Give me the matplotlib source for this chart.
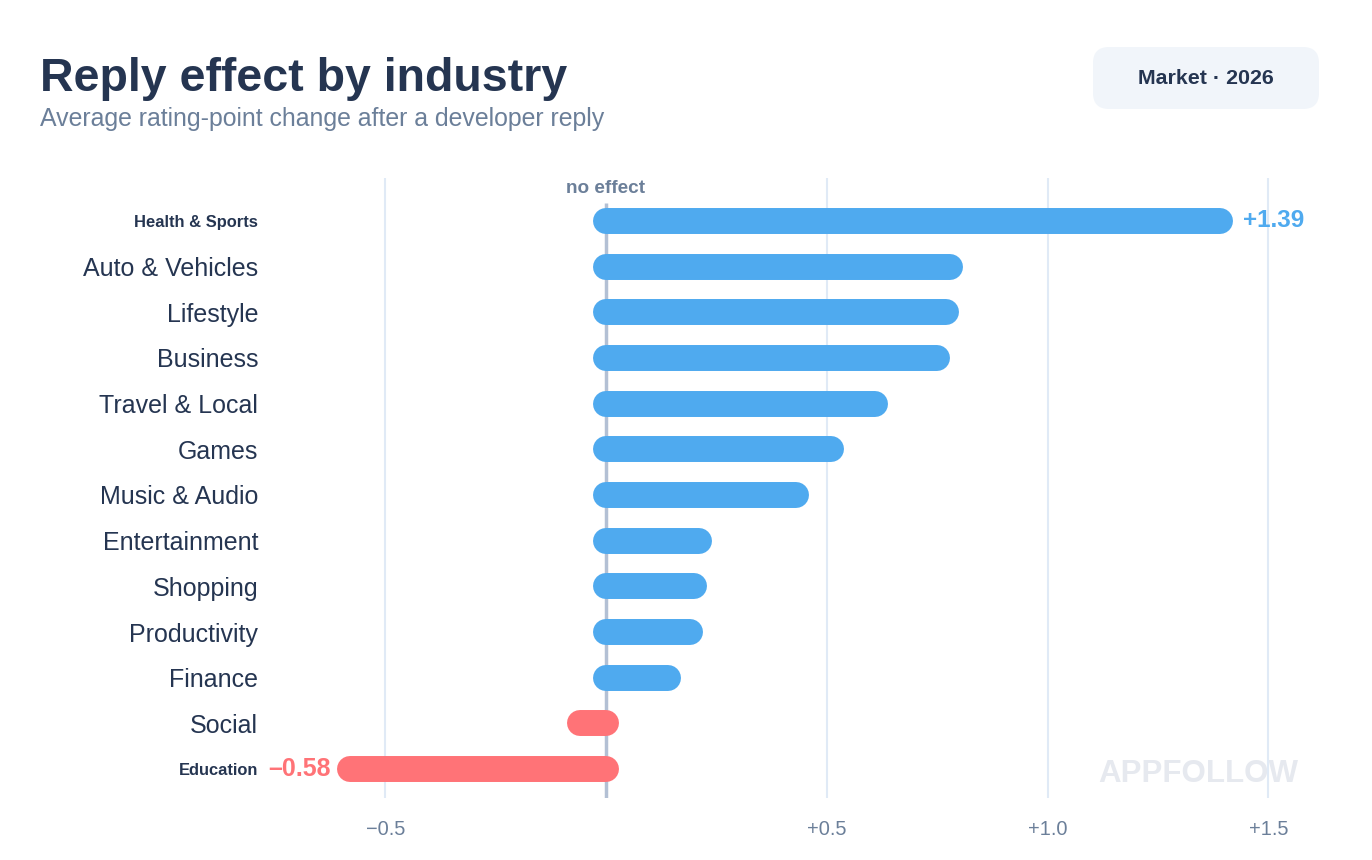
import matplotlib
matplotlib.use("Agg")
import matplotlib.pyplot as plt
from matplotlib.patches import FancyBboxPatch

plt.rcParams['font.family'] = ['Liberation Sans', 'DejaVu Sans']

# data, top row first
industries = ["Health & Sports", "Auto & Vehicles", "Lifestyle", "Business",
              "Travel & Local", "Games", "Music & Audio", "Entertainment",
              "Shopping", "Productivity", "Finance", "Social", "Education"]
effect = [1.39, 0.78, 0.77, 0.75, 0.61, 0.51, 0.43, 0.21, 0.20, 0.19, 0.14, -0.06, -0.58]
highlight = ["Health & Sports", "Education"]
xticks = [-0.5, 0.5, 1.0, 1.5]
xtick_labels = ["\u22120.5", "+0.5", "+1.0", "+1.5"]

NAVY = "#253551"
SLATE = "#6b7f99"
BLUE = "#4faaef"
RED = "#ff7377"
GRID = "#e0eaf6"
ZERO = "#b3c0d4"

W, H = 1372, 860


def main():
    fig = plt.figure(figsize=(W / 100, H / 100), dpi=100)
    fig.patch.set_facecolor("white")

    # overlay in pixel coords for title + badge
    deco = fig.add_axes([0, 0, 1, 1], zorder=0)
    deco.set_xlim(0, W)
    deco.set_ylim(H, 0)
    deco.axis('off')
    deco.text(40, 91, "Reply effect by industry", fontsize=33.5, fontweight='bold',
              color=NAVY, va='baseline')
    deco.text(40, 126, "Average rating-point change after a developer reply",
              fontsize=17.9, color=SLATE, va='baseline')
    deco.add_patch(FancyBboxPatch((1093, 47), 226, 62,
                                  boxstyle="round,pad=0,rounding_size=16",
                                  facecolor="#f1f5fa", edgecolor="none"))
    deco.text(1206, 78, "Market \u00b7 2026", fontsize=15.4, fontweight='bold',
              color=NAVY, ha='center', va='center')

    # main axes: 270..1330 px wide, 178..798 px tall
    left, right, top, bottom = 270, 1330, 178, 798
    ax = fig.add_axes([left / W, 1 - bottom / H, (right - left) / W, (bottom - top) / H],
                      zorder=1)
    ax.patch.set_alpha(0)
    px_per_unit = 441.5
    zero_px = 606
    ax.set_xlim((left - zero_px) / px_per_unit, (right - zero_px) / px_per_unit)
    n = len(industries)
    row_px = 45.7
    ax.set_ylim((n - 1) + (bottom - 769) / row_px, -(221 - top) / row_px)

    for x in xticks:
        ax.axvline(x, color=GRID, lw=1.5, zorder=1)
    ax.plot([0, 0], [-0.4, ax.get_ylim()[0]], color=ZERO, lw=2.5, zorder=2,
            solid_capstyle='butt')

    ax.text((1198 - left) / (right - left), (bottom - 774) / (bottom - top), "APPFOLLOW",
            transform=ax.transAxes, fontsize=22.5, fontweight='bold', color="#e6e9ef",
            ha='center', va='center', zorder=0)

    for i, (name, v) in enumerate(zip(industries, effect)):
        col = BLUE if v >= 0 else RED
        ax.plot([0, v], [i, i], color=col, lw=18.7, solid_capstyle='round', zorder=3)

    # value labels for the extremes
    top_i = effect.index(max(effect))
    low_i = effect.index(min(effect))
    ax.annotate("+%.2f" % effect[top_i], (effect[top_i], top_i), xytext=(16.5, 0),
                textcoords='offset points', ha='left', va='center',
                fontsize=17.5, fontweight='bold', color=BLUE)
    ax.annotate("\u2013%.2f" % abs(effect[low_i]), (effect[low_i], low_i), xytext=(-14, 0),
                textcoords='offset points', ha='right', va='center',
                fontsize=18, fontweight='bold', color=RED)

    ax.text(0, -0.72, "no effect", ha='center', va='center', fontsize=13.7,
            fontweight='bold', color=SLATE)

    ax.set_yticks(range(n))
    ax.set_yticklabels(industries)
    for lab in ax.get_yticklabels():
        lab.set_color(NAVY)
        if lab.get_text() in highlight:
            lab.set_fontsize(11.9)
            lab.set_fontweight('bold')
        else:
            lab.set_fontsize(18)
    ax.set_xticks(xticks)
    ax.set_xticklabels(xtick_labels, fontsize=14.4, color=SLATE)
    ax.tick_params(axis='y', length=0, pad=8.6)
    ax.tick_params(axis='x', length=0, pad=15.5)
    for s in ax.spines.values():
        s.set_visible(False)

    fig.savefig("out.png", dpi=100, facecolor="white")


if __name__ == '__main__':
    main()
